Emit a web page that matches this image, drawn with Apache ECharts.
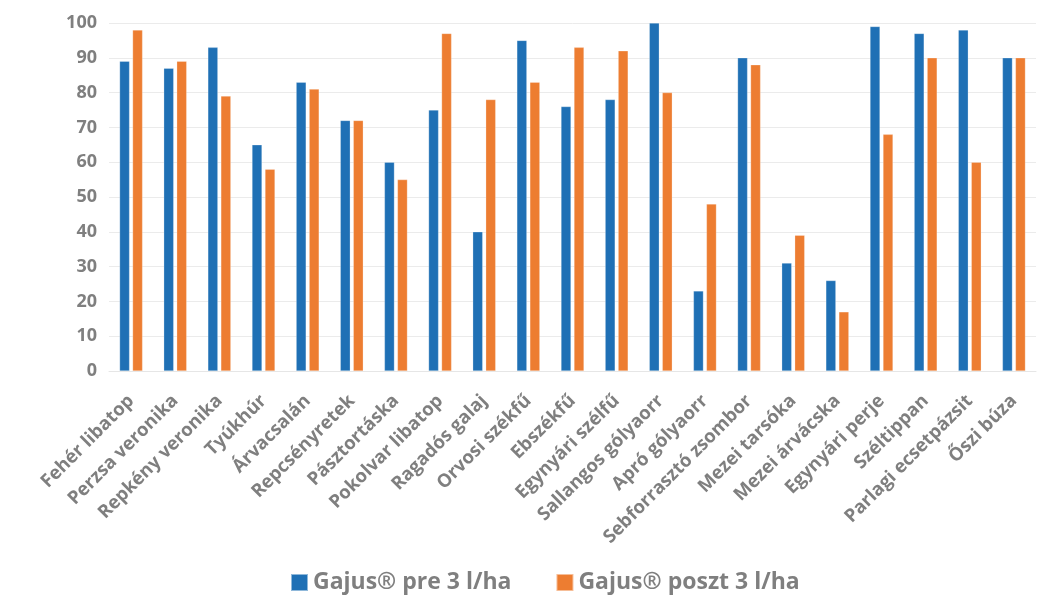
<!DOCTYPE html>
<html><head><meta charset="utf-8">
<script src="https://cdn.jsdelivr.net/npm/echarts@6/dist/echarts.min.js"></script>
<style>html,body{margin:0;padding:0;background:#fff}#c{width:1040px;height:595px}</style>
</head><body><div id="c"></div>
<script>
const categories = ["Fehér libatop","Perzsa veronika","Repkény veronika","Tyúkhúr","Árvacsalán","Repcsényretek","Pásztortáska","Pokolvar libatop","Ragadós galaj","Orvosi székfű","Ebszékfű","Egynyári szélfű","Sallangos gólyaorr","Apró gólyaorr","Sebforrasztó zsombor","Mezei tarsóka","Mezei árvácska","Egynyári perje","Széltippan","Parlagi ecsetpázsit","Őszi búza"];
const preValues = [89,87,93,65,83,72,60,75,40,95,76,78,100,23,90,31,26,99,97,98,90];
const posztValues = [98,89,79,58,81,72,55,97,78,83,93,92,80,48,88,39,17,68,90,60,90];
const seriesNames = ["Gajus® pre 3 l/ha","Gajus® poszt 3 l/ha"];
const yTicks = {min:0,max:100,interval:10};

const font = "'Open Sans', sans-serif";
const gray = "#7f7f7f";
const chart = echarts.init(document.getElementById('c'));
chart.setOption({
  animation:false,
  grid:{left:109,right:4,top:23,bottom:224},
  legend:{
    top:566,left:285,itemWidth:17,itemHeight:17,itemGap:44,
    icon:'rect',
    textStyle:{color:gray,fontSize:23,fontWeight:'bold',fontFamily:font},
    data:seriesNames
  },
  xAxis:{
    type:'category',data:categories,
    axisLine:{show:true,lineStyle:{color:'#e6e6e6'}},
    axisTick:{show:false},
    axisLabel:{rotate:45,interval:0,color:gray,fontSize:18.5,fontWeight:'bold',fontFamily:font,margin:27}
  },
  yAxis:{
    type:'value',min:yTicks.min,max:yTicks.max,interval:yTicks.interval,
    axisLine:{show:false},axisTick:{show:false},
    splitLine:{lineStyle:{color:'#ebebeb'}},
    axisLabel:{color:gray,fontSize:18,fontWeight:'bold',fontFamily:font,margin:12}
  },
  series:[
    {name:seriesNames[0],type:'bar',data:preValues,barWidth:10,barGap:'30%',
     itemStyle:{color:'#1f70b5',borderColor:'rgba(255,255,255,0.5)',borderWidth:0.5}},
    {name:seriesNames[1],type:'bar',data:posztValues,barWidth:10,barGap:'30%',
     itemStyle:{color:'#ed7d31',borderColor:'rgba(255,255,255,0.5)',borderWidth:0.5}}
  ]
});
</script></body></html>
